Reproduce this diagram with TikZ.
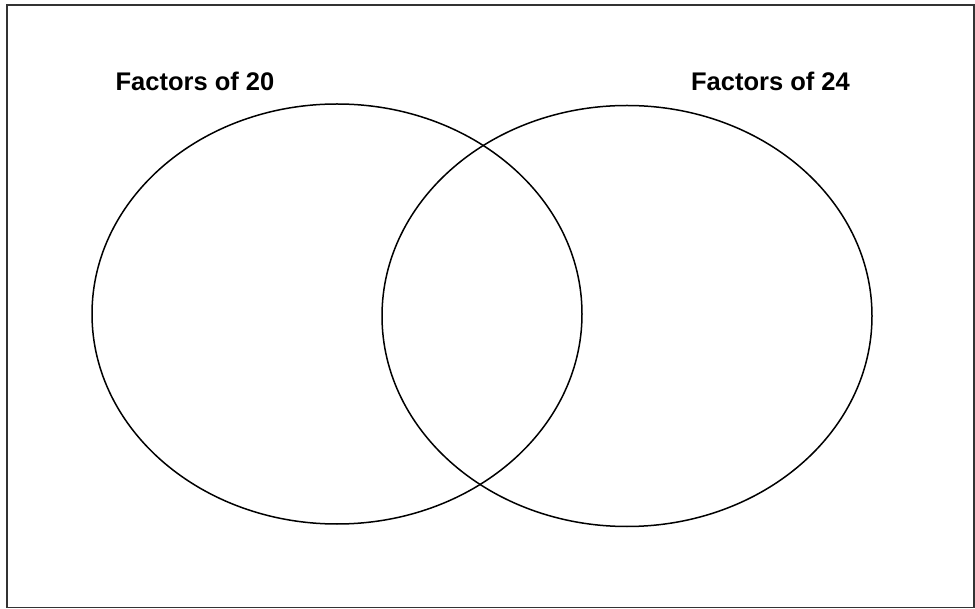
\documentclass[tikz,border=0pt]{standalone}
\usepackage{fontspec}
\setmainfont{Liberation Sans}
\begin{document}
\begin{tikzpicture}[x=1pt,y=-1pt,
  venn/.style={draw=black,line width=1.5pt},
  lbl/.style={font=\fontsize{25.5}{30}\selectfont\bfseries,inner sep=0pt,anchor=base}]
\useasboundingbox (0,0) rectangle (975,609);
\draw[line width=1.6pt,draw=black!80] (7,5) rectangle (974,607.5);
\draw[venn] (337,314) ellipse [x radius=245, y radius=210];
\draw[venn] (627,316) ellipse [x radius=245, y radius=210.5];
\node[lbl] (l20) at (195,91) {Factors of 20};
\node[lbl] (l24) at (770.5,91) {Factors of 24};
\end{tikzpicture}
\end{document}
